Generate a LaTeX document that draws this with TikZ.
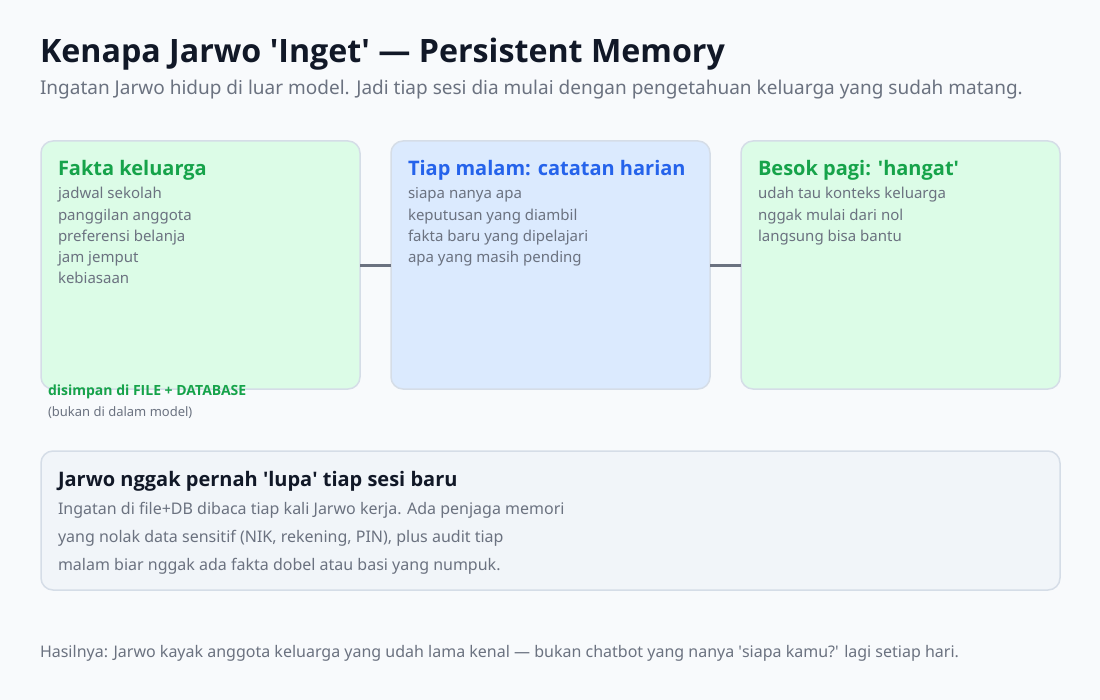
\documentclass[tikz,border=0pt]{standalone}
\usepackage{fontspec}
\setmainfont{Noto Sans}
\newfontfamily\headfont{Open Sans}
\definecolor{bgpage}{HTML}{F8FAFC}
\definecolor{inkdark}{HTML}{111827}
\definecolor{inkgray}{HTML}{6B7280}
\definecolor{factgreen}{HTML}{16A34A}
\definecolor{nightblue}{HTML}{2563EB}
\definecolor{fillgreen}{HTML}{DCFCE7}
\definecolor{fillblue}{HTML}{DBEAFE}
\definecolor{fillslate}{HTML}{F1F5F9}
\definecolor{edgegray}{HTML}{D5DDE7}
\newcommand{\sq}{\textquotesingle}
\begin{document}
\begin{tikzpicture}[x=1bp,y=-1bp,
  txt/.style={anchor=base west,inner sep=0pt,outer sep=0pt},
  card/.style={draw=edgegray,line width=1.5bp,rounded corners=12bp},
  cardtitle/.style={txt,font=\fontsize{20bp}{24bp}\selectfont\headfont\bfseries},
  cardlines/.style={txt,align=left,text=inkgray,font=\fontsize{15bp}{21bp}\selectfont},
  link/.style={draw=inkgray,line width=3bp}]
\fill[bgpage] (0,0) rectangle (1100,700);
\useasboundingbox (0,0) rectangle (1100,700);

\node[txt,text=inkdark,font=\fontsize{32.2bp}{38bp}\selectfont\headfont\bfseries] (title) at (40,63) {Kenapa Jarwo \sq Inget\sq{} — Persistent Memory};
\node[txt,text=inkgray,font=\fontsize{19bp}{24bp}\selectfont] (subtitle) at (40,95) {Ingatan Jarwo hidup di luar model. Jadi tiap sesi dia mulai dengan pengetahuan keluarga yang sudah matang.};

% three cards
\draw[card,fill=fillgreen] (41,141) rectangle (360,389);
\draw[card,fill=fillblue] (391,141) rectangle (710,389);
\draw[card,fill=fillgreen] (741,141) rectangle (1060,389);
\coordinate (fakta) at (360,265);
\coordinate (malamL) at (391,265);
\coordinate (malamR) at (710,265);
\coordinate (besok) at (741,265);
\draw[link] (fakta) -- (malamL);
\draw[link] (malamR) -- (besok);

% multi-line nodes sit on their last baseline
\node[cardtitle,text=factgreen] (faktaT) at (58,176) {Fakta keluarga};
\node[cardlines] (faktaL) at (58,283) {jadwal sekolah\\panggilan anggota\\preferensi belanja\\jam jemput\\kebiasaan};
\node[cardtitle,text=nightblue] (malamT) at (408,176) {Tiap malam: catatan harian};
\node[cardlines] (malamLs) at (408,262) {siapa nanya apa\\keputusan yang diambil\\fakta baru yang dipelajari\\apa yang masih pending};
\node[cardtitle,text=factgreen] (besokT) at (758,176) {Besok pagi: \sq hangat\sq};
\node[cardlines] (besokL) at (758,241) {udah tau konteks keluarga\\nggak mulai dari nol\\langsung bisa bantu};

\node[txt,text=factgreen,font=\fontsize{14bp}{16bp}\selectfont\headfont\bfseries] (simpan) at (48,395) {disimpan di FILE + DATABASE};
\node[txt,text=inkgray,font=\fontsize{13bp}{15bp}\selectfont] (bukan) at (48,416) {(bukan di dalam model)};

% bottom note
\draw[card,fill=fillslate] (41,451) rectangle (1060,590);
\node[cardtitle,text=inkdark] (lupaT) at (58,486) {Jarwo nggak pernah \sq lupa\sq{} tiap sesi baru};
\node[txt,align=left,text=inkgray,font=\fontsize{16bp}{28bp}\selectfont] (lupaL) at (58,570) {Ingatan di file+DB dibaca tiap kali Jarwo kerja. Ada penjaga memori\\yang nolak data sensitif (NIK, rekening, PIN), plus audit tiap\\malam biar nggak ada fakta dobel atau basi yang numpuk.};

\node[txt,text=inkgray,font=\fontsize{16bp}{20bp}\selectfont] (hasil) at (40,657) {Hasilnya: Jarwo kayak anggota keluarga yang udah lama kenal — bukan chatbot yang nanya \sq siapa kamu?\sq{} lagi setiap hari.};
\end{tikzpicture}
\end{document}
